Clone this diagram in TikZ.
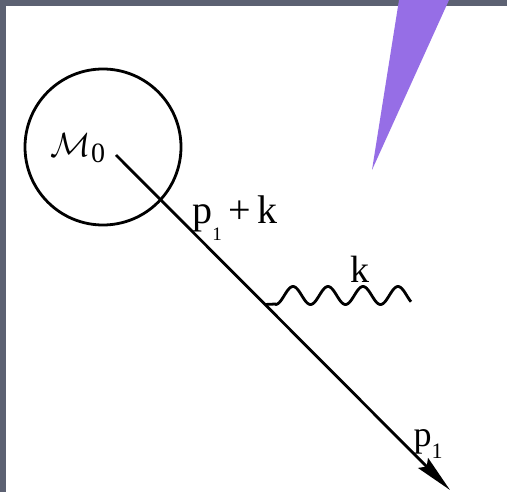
\documentclass[tikz,border=0pt]{standalone}
\usepackage{fontspec}
\usepackage{graphicx}
\setmainfont{Liberation Serif}
\usetikzlibrary{arrows.meta}
\definecolor{frame}{RGB}{92,97,114}
\definecolor{wedgecol}{RGB}{150,110,230}
\begin{document}
\begin{tikzpicture}[x=1pt,y=-1pt,
  stroke/.style={line width=2.8pt,black},
  lbl/.style={inner sep=0pt,font=\fontsize{40}{44}\selectfont},
  blob/.style={circle,draw,line width=2.8pt,minimum size=156pt,inner sep=0pt}]
\useasboundingbox (0,0) rectangle (507,492);
\fill[frame] (0,0) rectangle (507,492);
\fill[white] (6,6) rectangle (507,492);
\fill[wedgecol] (399,0) -- (449,0) -- (372,170) -- cycle;
\node[blob] (blob) at (103,147) {};
\node[lbl] (mlab) at (78,148) {\scalebox{1.35}{\fontsize{24.88}{28}\selectfont$\mathcal{M}$}\raisebox{-6pt}{\fontsize{28}{28}\selectfont 0}};
\coordinate (start) at (116,155);
\coordinate (tip) at (450,490);
\coordinate (vertex) at (265,304.5);
\draw[stroke,-{Stealth[length=38pt,width=14pt,inset=5pt]}] (start) -- (tip);
\draw[stroke,line join=round] (vertex) -- (275.5,304)
  -- plot[domain=275.5:411,samples=120,smooth] (\x,{295.5-9*cos((\x-293)*10.2857)});
\node[lbl] (plab) at (235,218) {p\raisebox{-17pt}{\fontsize{19}{19}\selectfont 1}\,+\,k};
\node[lbl,font=\fontsize{38}{42}\selectfont] (klab) at (360,269) {k};
\node[lbl,font=\fontsize{36}{40}\selectfont] (p1lab) at (428,444) {p\raisebox{-12pt}{\fontsize{22}{22}\selectfont 1}};
\end{tikzpicture}
\end{document}
